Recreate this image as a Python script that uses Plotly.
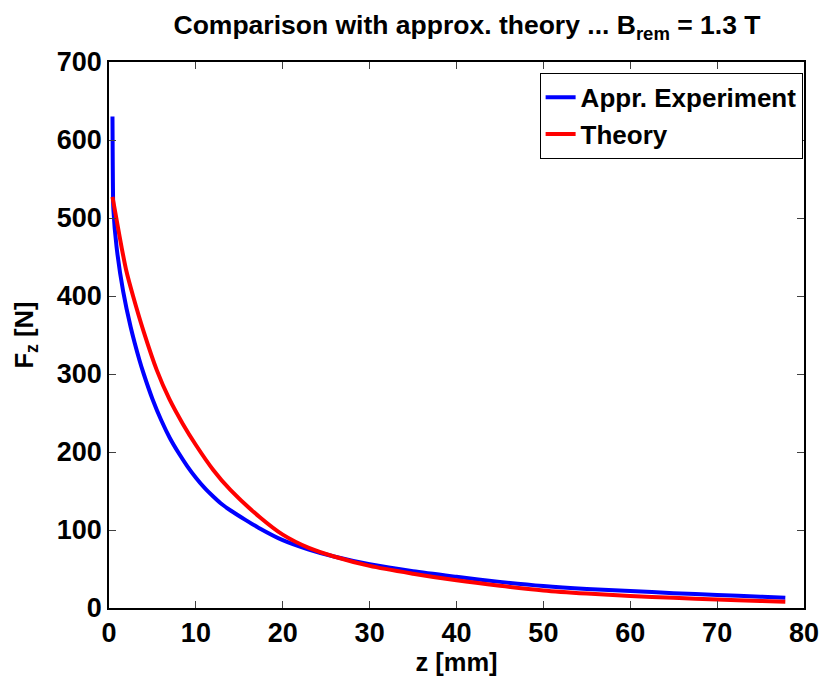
import plotly.graph_objects as go

# Approximated experiment (blue)
z_exp = [0.40, 0.42, 0.45, 0.50, 0.87, 1.63, 2.5, 3.5, 4.0, 5.0, 6.0, 7.0, 8.0, 9.0, 10.0,
         11.0, 12.0, 13.0, 14.0, 15.7, 17.2, 20.0, 23.0, 25.9, 30.0, 35.0, 40.0, 45.0,
         50.0, 55.0, 60.0, 65.0, 70.0, 75.0, 77.85]
f_exp = [630, 590, 545, 512, 463, 406, 360, 318, 300, 268, 241, 218, 199, 182, 167,
         154, 143, 133, 125, 113, 103, 87, 75, 66, 56, 47, 40, 33.5,
         28.2, 24.5, 21.8, 19.0, 16.7, 14.5, 13.2]

# Theory (red)
z_th = [0.40, 1.0, 1.44, 2.0, 2.77, 4.0, 5.5, 6.94, 8.5, 10.0, 12.0, 14.0, 17.4, 20.0, 23.0,
        25.9, 30.0, 35.0, 40.0, 45.0, 50.0, 55.0, 60.0, 65.0, 70.0, 75.0, 77.85]
f_th = [527, 490, 463, 432, 400, 354, 305, 268, 236, 209, 177, 151, 116, 94, 77,
        66, 54, 44, 35.5, 28.5, 22.5, 18.5, 15.4, 13.0, 10.8, 9.0, 8.1]

x_ticks = [0, 10, 20, 30, 40, 50, 60, 70, 80]
y_ticks = [0, 100, 200, 300, 400, 500, 600, 700]

FONT = "Liberation Sans, Arial, Helvetica, sans-serif"

fig = go.Figure()
fig.add_trace(go.Scatter(x=z_exp, y=f_exp, mode="lines", name="<b>Appr. Experiment</b>",
                         line=dict(color="#0000ff", width=4, shape="spline", smoothing=0.7)))
fig.add_trace(go.Scatter(x=z_th, y=f_th, mode="lines", name="<b>Theory</b>",
                         line=dict(color="#ff0000", width=4, shape="spline", smoothing=0.8)))

axis_common = dict(showline=True, linecolor="#000000", linewidth=1.5, mirror="ticks",
                   ticks="inside", ticklen=7, tickwidth=1, tickcolor="#404040",
                   showgrid=False, zeroline=False,
                   tickfont=dict(family=FONT, size=27, color="#000000", weight="bold"))

fig.update_layout(
    width=831, height=680,
    margin=dict(l=109, r=19, t=62, b=72),
    paper_bgcolor="#ffffff", plot_bgcolor="#ffffff",
    font=dict(family=FONT, color="#000000"),
    title=dict(text="<b>Comparison with approx. theory ... B<sub>rem</sub> = 1.3 T</b>",
               x=0.562, xanchor="center", y=0.963, yanchor="middle",
               font=dict(family=FONT, size=26.5, color="#000000", weight="bold")),
    xaxis=dict(range=[0, 80], tickvals=x_ticks, ticktext=[str(v) for v in x_ticks],
               title=dict(text="<b>z [mm]</b>", font=dict(family=FONT, size=25.5, weight="bold"),
                          standoff=2),
               **axis_common),
    yaxis=dict(range=[0, 700], tickvals=y_ticks, ticktext=[str(v) for v in y_ticks],
               title=dict(text="<b>F<sub>z</sub> [N]</b>", font=dict(family=FONT, size=25.5, weight="bold"),
                          standoff=16),
               **axis_common),
    legend=dict(x=0.998, xanchor="right", y=0.98, yanchor="top",
                bgcolor="#ffffff", bordercolor="#000000", borderwidth=1,
                font=dict(family=FONT, size=26, color="#000000", weight="bold"),
                tracegroupgap=0),
    showlegend=True,
)

fig.write_html("out.html")
